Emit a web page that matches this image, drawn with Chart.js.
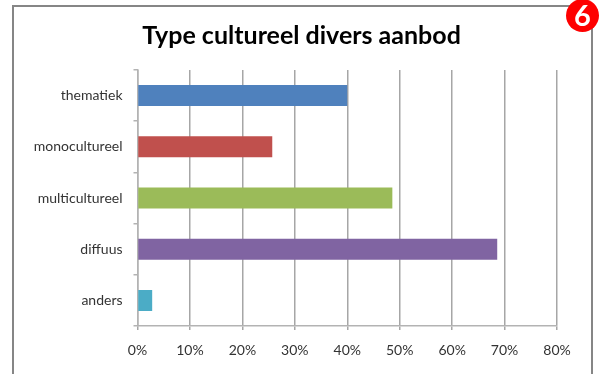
<!DOCTYPE html>
<html>
<head>
<meta charset="utf-8">
<title>Type cultureel divers aanbod</title>
<script src="https://cdn.jsdelivr.net/npm/chart.js@4"></script>
<style>
    html, body { margin: 0; padding: 0; background: #fff; overflow: hidden; }
    #wrap { position: relative; width: 599px; height: 374px; }
    #frame { position: absolute; left: 12px; top: 5px; width: 577px; height: 380px; border: 2px solid #868686; box-sizing: content-box; }
    #chart { position: absolute; left: 0; top: 0; }
    #badge { position: absolute; left: 566px; top: -1px; width: 33px; height: 33px; border-radius: 50%; background: #fe0000; color: #fff;
             font: bold 29px/32px Lato, sans-serif; text-align: center; }
</style>
</head>
<body>
<div id="wrap">
    <div id="frame"></div>
    <canvas id="chart" width="599" height="374"></canvas>
    <div id="badge">6</div>
</div>
<script>
const chartTitle = 'Type cultureel divers aanbod';
const categories = ['thematiek', 'monocultureel', 'multicultureel', 'diffuus', 'anders'];
const shares = [40, 25.7, 48.6, 68.6, 2.8];
const barColors = ['#4f81bd', '#c0504d', '#9bbb59', '#8064a2', '#4bacc6'];

const FONT = 'Lato, sans-serif';
const GRID = '#a6a6a6';
const AXIS = '#b3b3b3';

new Chart(document.getElementById('chart'), {
    type: 'bar',
    data: {
        labels: categories,
        datasets: [{ data: shares, backgroundColor: barColors, categoryPercentage: 1, barPercentage: 0.41 }]
    },
    options: {
        indexAxis: 'y',
        responsive: false,
        animation: false,
        layout: { padding: { top: 21, right: 0, left: 4, bottom: 0 } },
        plugins: {
            legend: { display: false },
            tooltip: { enabled: false },
            title: {
                display: true,
                text: chartTitle,
                color: '#000',
                font: { family: FONT, size: 25, weight: 'bold' },
                padding: { top: 0, bottom: 19 }
            }
        },
        scales: {
            x: {
                min: 0,
                max: 80,
                grid: { color: GRID, lineWidth: 1.5, tickLength: 4 },
                border: { color: AXIS, width: 1.5 },
                ticks: {
                    stepSize: 10,
                    color: '#333',
                    padding: 12,
                    maxRotation: 0,
                    font: { family: FONT, size: 14 },
                    callback: v => v + '%'
                },
                afterFit: scale => { scale.height = 48; }
            },
            y: {
                grid: { drawOnChartArea: false, color: AXIS, lineWidth: 1.5, tickLength: 4 },
                border: { color: AXIS, width: 1.5 },
                ticks: { color: '#333', padding: 11, font: { family: FONT, size: 14 } },
                afterFit: scale => { scale.width = 133.5; }
            },
            // empty axis: reserves the right margin without moving the title off centre
            rightGap: {
                type: 'linear',
                position: 'right',
                grid: { display: false },
                border: { display: false },
                ticks: { display: false },
                afterFit: scale => { scale.width = 42; }
            }
        }
    }
});
</script>
</body>
</html>
